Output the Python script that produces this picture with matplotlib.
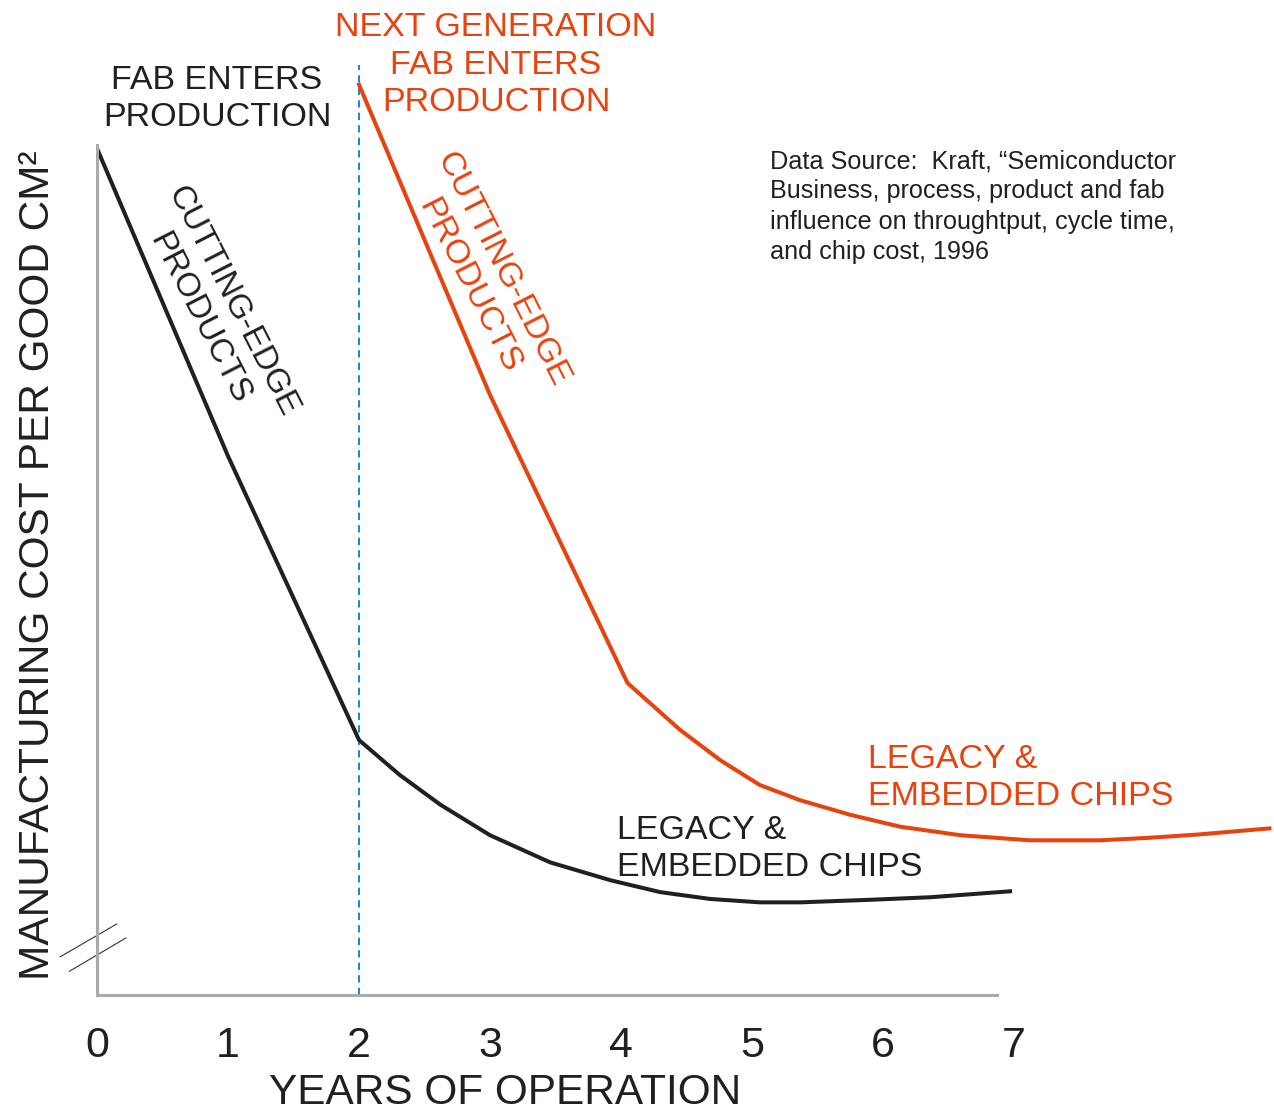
import matplotlib.pyplot as plt

plt.rcParams['font.family'] = ['Liberation Sans', 'DejaVu Sans']

# years of operation vs. relative manufacturing cost
fab_years = [0.0, 1.0, 2.0, 2.31, 2.62, 3.0, 3.46, 3.92, 4.3, 4.68, 5.06, 5.37, 5.9, 6.36, 6.97]
fab_cost = [99.6, 63.4, 30.0, 25.9, 22.4, 18.8, 15.6, 13.5, 12.1, 11.3, 10.9, 10.9, 11.2, 11.5, 12.2]

next_years = [2.0, 3.0, 4.05, 4.45, 4.76, 5.06, 5.37, 5.75, 6.13, 6.59, 7.12, 7.66, 8.04, 8.42, 8.95]
next_cost = [107.1, 70.6, 36.7, 31.2, 27.6, 24.7, 22.9, 21.2, 19.8, 18.8, 18.2, 18.2, 18.5, 18.9, 19.6]

year_ticks = [0, 1, 2, 3, 4, 5, 6, 7]
next_fab_start = 2

BLACK = '#231f20'
RED = '#e8430e'
BLUE = '#1a8ad8'
GREY = '#aaaaaa'

W, H = 1274, 1115
fig = plt.figure(figsize=(W / 100, H / 100), dpi=100)
ax = fig.add_axes([97 / W, 1 - 995 / H, 1177 / W, 995 / H])
ax.set_xlim(0, 1177 / 131)
ax.set_ylim(0, 995 / 8.5)


def px(x, y):
    # pixel position -> figure fraction
    return x / W, 1 - y / H


# axes
for s in ['top', 'right']:
    ax.spines[s].set_visible(False)
for s in ['left', 'bottom']:
    ax.spines[s].set_color(GREY)
    ax.spines[s].set_linewidth(2.2)
ax.spines['left'].set_bounds(0, 100)
ax.spines['bottom'].set_bounds(0, 6.87)
ax.set_yticks([])
ax.set_xticks(year_ticks)
ax.set_xticklabels([str(t) for t in year_ticks])
ax.tick_params(axis='x', length=0, pad=22, labelsize=31, labelcolor=BLACK)

# axis break marks
ax.plot([-0.28, 0.15], [4.5, 8.35], color='#333333', lw=0.8, clip_on=False)
ax.plot([-0.21, 0.22], [2.8, 6.7], color='#333333', lw=0.8, clip_on=False)

# next generation fab start
ax.vlines(next_fab_start, 0, 109.4, colors=BLUE, lw=1.5, linestyles=(0, (3.5, 2.5)), clip_on=False)

ax.plot(fab_years, fab_cost, color=BLACK, lw=2.9, solid_joinstyle='miter')
ax.plot(next_years, next_cost, color=RED, lw=2.9, solid_joinstyle='miter')

# labels (va='baseline' on multi-line text -> baseline of the last line)
fig.text(*px(505, 1104), 'YEARS OF OPERATION', ha='center', va='baseline', fontsize=30.5, color=BLACK)
fig.text(*px(38, 565), 'MANUFACTURING COST PER GOOD CM²', rotation=90, ha='center', va='center',
         fontsize=30.5, color=BLACK)

fig.text(*px(217, 126), 'FAB ENTERS\nPRODUCTION', ha='center', va='baseline', fontsize=24.5,
         color=BLACK, linespacing=1.27)
fig.text(*px(496, 111), 'NEXT GENERATION\nFAB ENTERS\nPRODUCTION', ha='center', va='baseline',
         fontsize=24.5, color=RED, linespacing=1.27)

fig.text(*px(216, 310), 'CUTTING-EDGE\nPRODUCTS', ha='center', va='center', rotation=-63,
         fontsize=24, color=BLACK, linespacing=1.25)
fig.text(*px(486, 278), 'CUTTING-EDGE\nPRODUCTS', ha='center', va='center', rotation=-63,
         fontsize=24.5, color=RED, linespacing=1.25)

fig.text(*px(617, 876), 'LEGACY &\nEMBEDDED CHIPS', ha='left', va='baseline', fontsize=24.5,
         color=BLACK, linespacing=1.27)
fig.text(*px(868, 805), 'LEGACY &\nEMBEDDED CHIPS', ha='left', va='baseline', fontsize=24.5,
         color=RED, linespacing=1.27)

fig.text(*px(770, 259),
         'Data Source:  Kraft, \u201cSemiconductor\nBusiness, process, product and fab\n'
         'influence on throughtput, cycle time,\nand chip cost, 1996',
         ha='left', va='baseline', fontsize=18.2, color=BLACK, linespacing=1.33)

fig.savefig('out.png', dpi=100)
